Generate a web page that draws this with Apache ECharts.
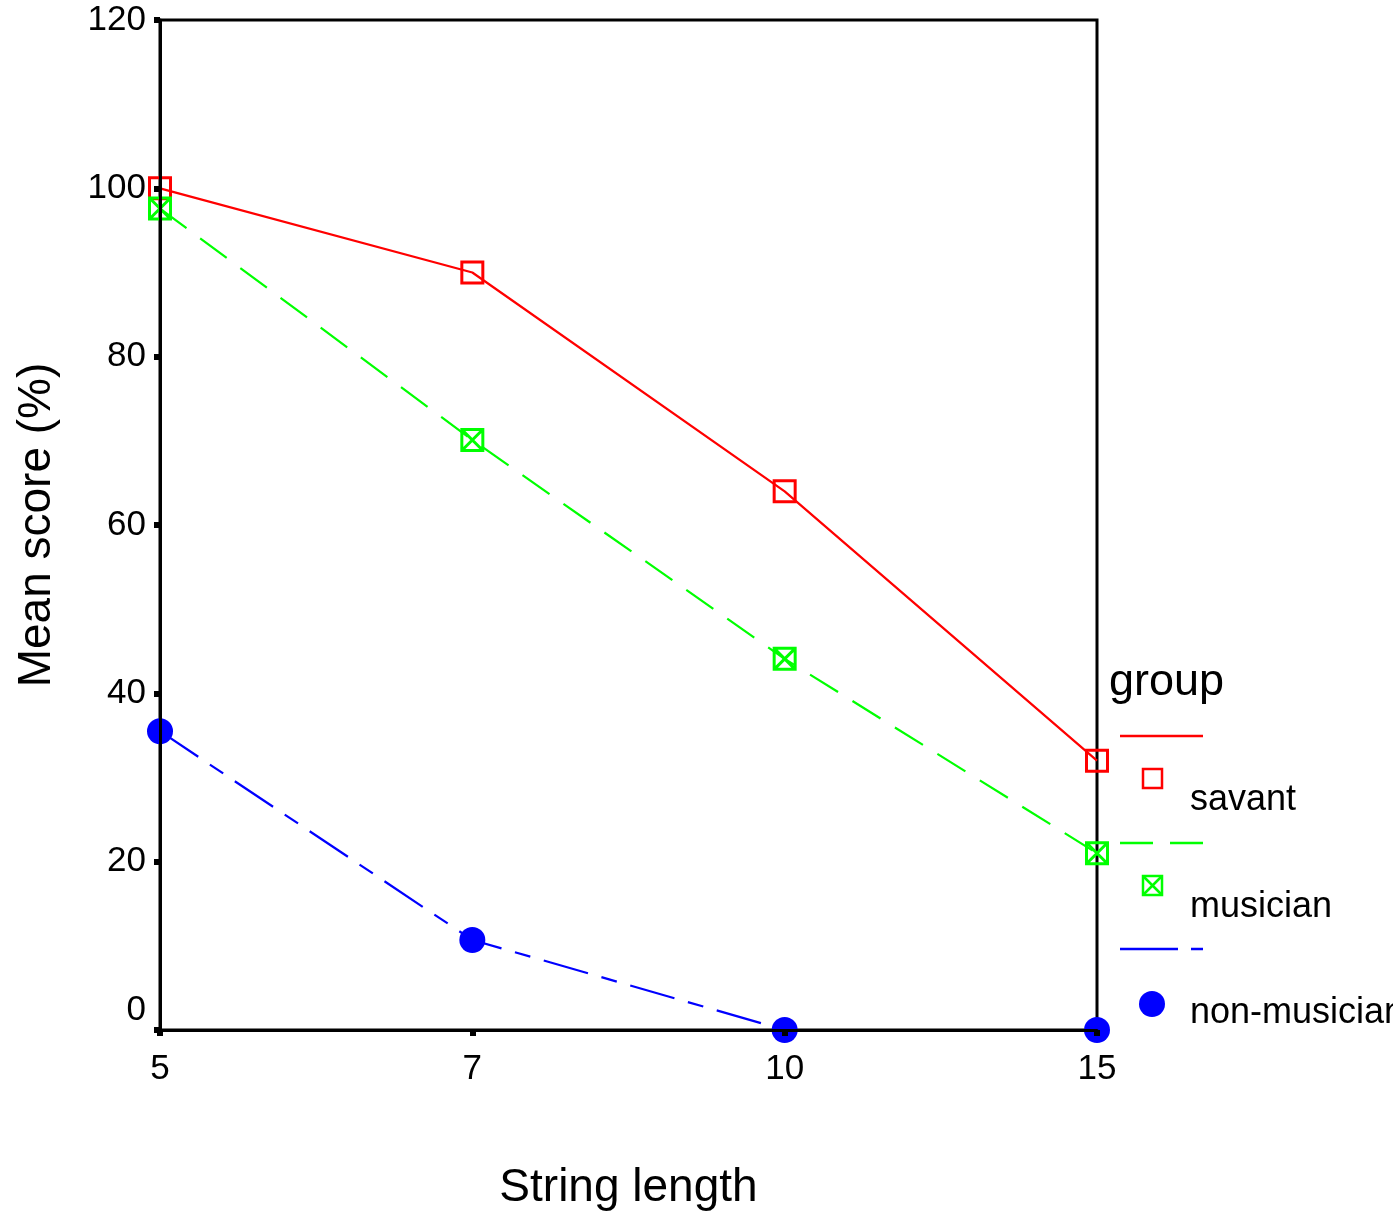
<!DOCTYPE html>
<html>
<head>
<meta charset="utf-8">
<script src="https://cdn.jsdelivr.net/npm/echarts@6/dist/echarts.min.js"></script>
<style>html,body{margin:0;padding:0;background:#fff}#c{width:1393px;height:1217px}</style>
</head>
<body>
<div id="c"></div>
<script>
const categories = ['5', '7', '10', '15'];
const savant = [100, 90, 64, 32];
const musician = [97.6, 70.1, 44.1, 21];
const nonMusician = [35.5, 10.7, 0, 0];
const yTicks = [0, 20, 40, 60, 80, 100, 120];
const seriesNames = ['savant', 'musician', 'non-musician'];
const legendTitle = 'group';

const FONT = '"Liberation Sans", Arial, sans-serif';
const RED = '#ff0000', GREEN = '#00ff00', BLUE = '#0000ff';
const xSquarePath = 'path://M0,0L10,0L10,10L0,10ZM0,0L10,10M10,0L0,10';
const squarePath = 'path://M0,0L10,0L10,10L0,10Z';

const chart = echarts.init(document.getElementById('c'));

function legendItem(y, color, dash, markerType, label) {
  const els = [];
  els.push({ type: 'line', shape: { x1: 1120, y1: y, x2: 1203, y2: y },
    style: { stroke: color, lineWidth: 2.5, lineDash: dash } });
  const my = y + 43;
  if (markerType === 'square' || markerType === 'xsquare') {
    els.push({ type: 'rect', shape: { x: 1143, y: my - 10, width: 19, height: 19 },
      style: { fill: 'none', stroke: color, lineWidth: 2.5 } });
    if (markerType === 'xsquare') {
      els.push({ type: 'polyline', shape: { points: [[1143, my - 10], [1162, my + 9]] }, style: { stroke: color, lineWidth: 2.5, fill: null } });
      els.push({ type: 'polyline', shape: { points: [[1162, my - 10], [1143, my + 9]] }, style: { stroke: color, lineWidth: 2.5, fill: null } });
    }
  } else {
    els.push({ type: 'circle', shape: { cx: 1152, cy: my + 12, r: 13 }, style: { fill: color } });
  }
  els.push({ type: 'text', style: { x: 1190, y: y + 64, text: label, font: '36px ' + FONT, fill: '#000', textVerticalAlign: 'middle' } });
  return els;
}

const graphicEls = [
  { type: 'text', style: { x: 1109, y: 683, text: legendTitle, font: '45px ' + FONT, fill: '#000', textVerticalAlign: 'middle' } }
].concat(
  legendItem(736, RED, null, 'square', seriesNames[0]),
  legendItem(843, GREEN, [33, 17], 'xsquare', seriesNames[1]),
  legendItem(949, BLUE, [58, 13, 12, 13], 'circle', seriesNames[2])
);

chart.setOption({
  animation: false,
  backgroundColor: '#fff',
  grid: { left: 160, right: 296, top: 20, bottom: 187, outerBoundsMode: 'none', containLabel: false,
    show: true, borderColor: '#000', borderWidth: 3, backgroundColor: 'transparent' },
  xAxis: {
    type: 'category', data: categories, boundaryGap: false, z: 10,
    axisLine: { lineStyle: { color: '#000', width: 3 } },
    axisTick: { show: true, alignWithLabel: true, length: 6, lineStyle: { color: '#000', width: 6 } },
    axisLabel: { color: '#000', fontSize: 35, fontFamily: FONT, margin: 22 },
    splitLine: { show: false },
    name: 'String length', nameLocation: 'middle', nameGap: 135,
    nameTextStyle: { color: '#000', fontSize: 46, fontFamily: FONT }
  },
  yAxis: {
    type: 'value', min: 0, max: 120, interval: 20, z: 10,
    axisLine: { show: true, lineStyle: { color: '#000', width: 3 } },
    axisTick: { show: true, length: 6, lineStyle: { color: '#000', width: 6 } },
    axisLabel: {
      color: '#000', fontSize: 35, fontFamily: FONT, margin: 14,
      formatter: function (v) { return yTicks.indexOf(v) === 0 ? '{z|' + v + '}' : String(v); },
      rich: { z: { fontSize: 35, fontFamily: FONT, color: '#000', padding: [0, 0, 40, 0] } }
    },
    splitLine: { show: false },
    name: 'Mean score (%)', nameLocation: 'middle', nameGap: 100,
    nameTextStyle: { color: '#000', fontSize: 46, fontFamily: FONT }
  },
  series: [
    { name: seriesNames[0], type: 'line', data: savant, clip: false,
      symbol: squarePath, symbolSize: 21, showAllSymbol: true,
      lineStyle: { color: RED, width: 2.2 },
      itemStyle: { color: 'rgba(0,0,0,0)', borderColor: RED, borderWidth: 3 } },
    { name: seriesNames[1], type: 'line', data: musician, clip: false,
      symbol: xSquarePath, symbolSize: 21, showAllSymbol: true,
      lineStyle: { color: GREEN, width: 2.2, type: [33, 17] },
      itemStyle: { color: 'rgba(0,0,0,0)', borderColor: GREEN, borderWidth: 3 } },
    { name: seriesNames[2], type: 'line', data: nonMusician, clip: false,
      symbol: 'circle', symbolSize: 26, showAllSymbol: true,
      lineStyle: { color: BLUE, width: 2.2, type: [46, 14, 16, 14] },
      itemStyle: { color: BLUE, borderWidth: 0 } }
  ],
  graphic: graphicEls
});
</script>
</body>
</html>
